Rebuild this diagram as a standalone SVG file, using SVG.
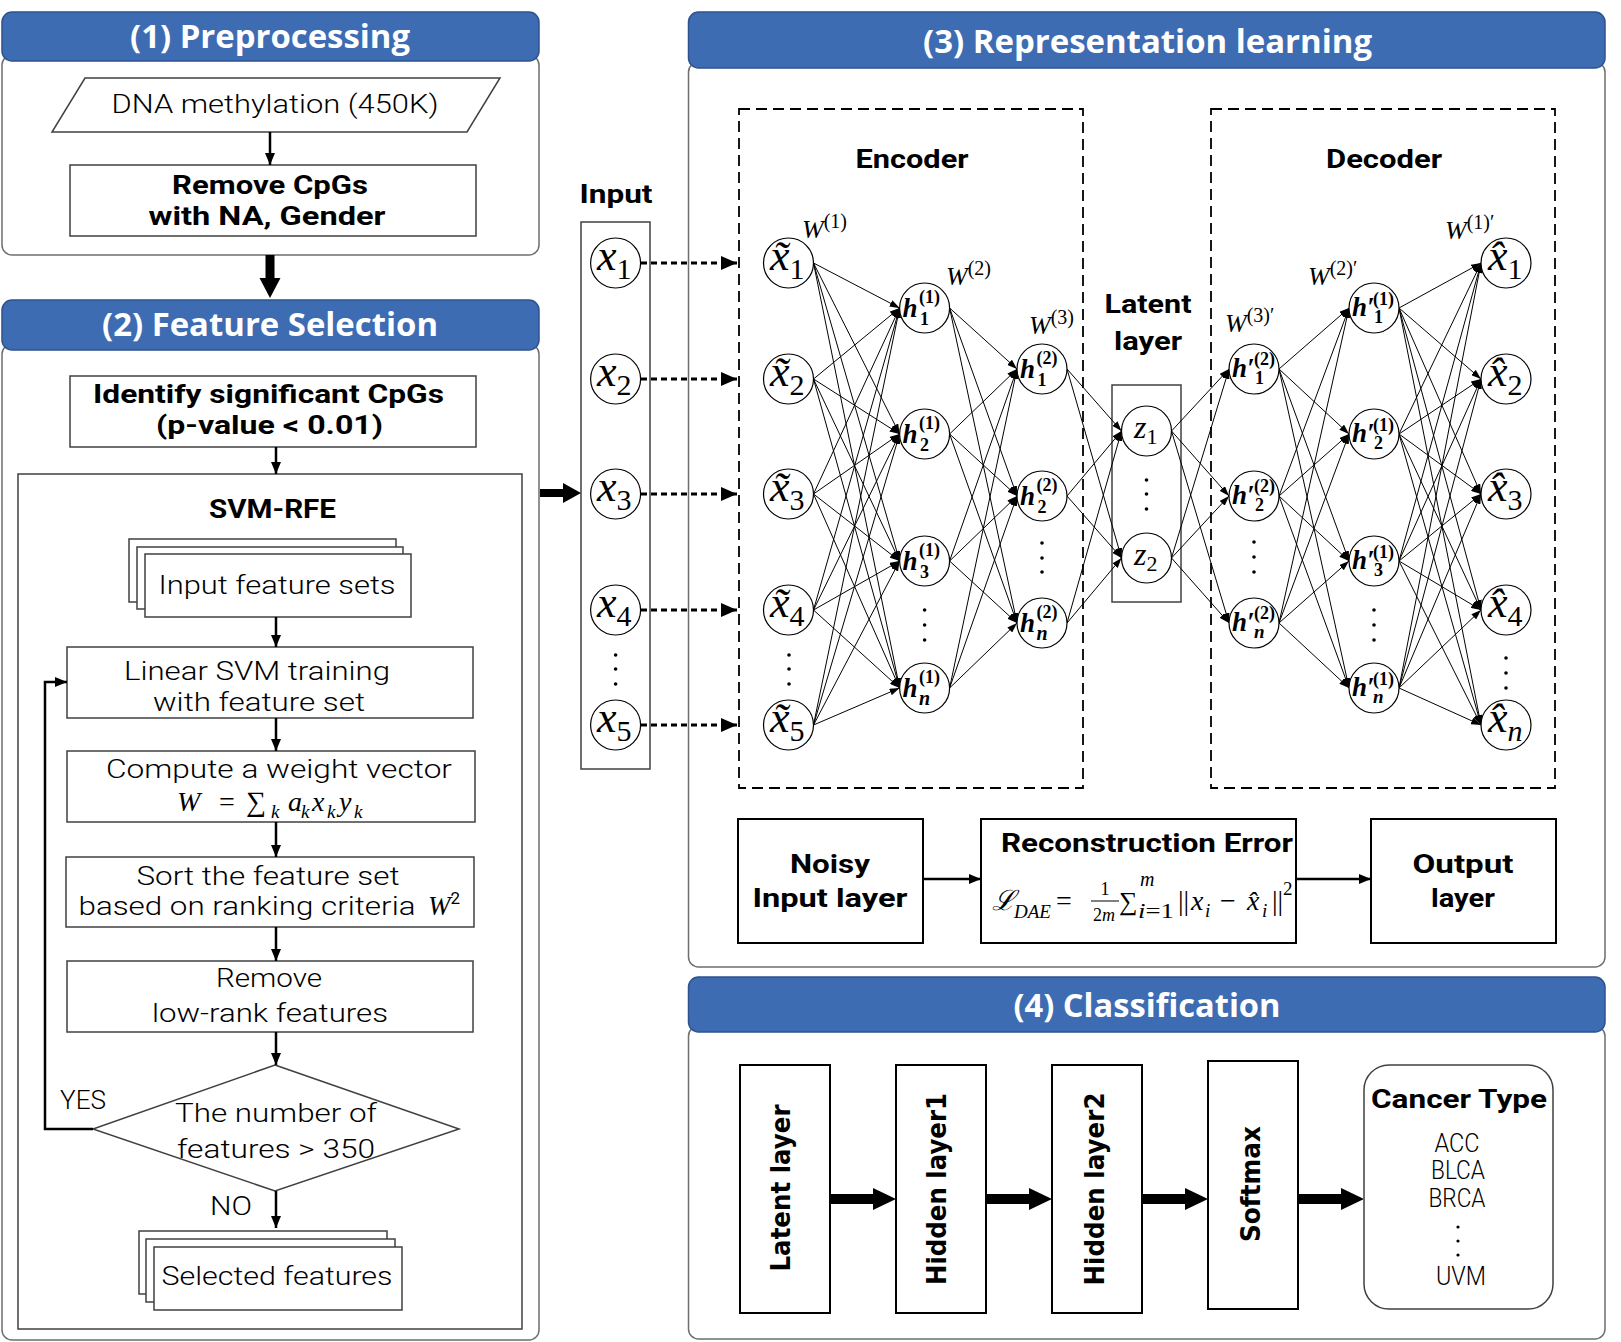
<svg xmlns="http://www.w3.org/2000/svg" width="1621" height="1342" viewBox="0 0 1621 1342">
<defs>
<style>
.hdr{fill:#3d6cb3;stroke:#2e5290;stroke-width:1.5}
.ht{font-family:"Open Sans","Noto Sans",sans-serif;font-weight:700;font-size:32px;fill:#fff;text-anchor:middle}
.pn{fill:#fff;stroke:#6e6e6e;stroke-width:1.5}
.bx{fill:#fff;stroke:#404040;stroke-width:1.5}
.bk{fill:#fff;stroke:#000;stroke-width:2}
.t{font-family:Roboto,"Liberation Sans",sans-serif;font-size:26px;font-weight:300;fill:#000;text-anchor:middle}
.b{font-weight:700}
.fl{stroke:#000;stroke-width:2.5;fill:none}
.nl{stroke:#000;stroke-width:1;fill:none}
.nd{fill:#fff;stroke:#000;stroke-width:1.2}
.mi{font-family:"Liberation Serif","DejaVu Serif",serif;font-style:italic;fill:#000}
.up{font-style:normal}
.hb{font-weight:700}
.dt{fill:#000}
.dash{stroke:#000;stroke-width:1.8;fill:none;stroke-dasharray:11 6}
.da{stroke:#000;stroke-width:3;fill:none;stroke-dasharray:6 4}
.rt{font-family:"DejaVu Sans",sans-serif;font-weight:700;font-size:26px;text-anchor:middle}
</style>
<marker id="a" markerUnits="userSpaceOnUse" markerWidth="12" markerHeight="10" refX="12" refY="5" orient="auto"><path d="M0,0L12,5L0,10z" fill="#000"/></marker>
<marker id="n" markerUnits="userSpaceOnUse" markerWidth="10" markerHeight="7" refX="10" refY="3.5" orient="auto"><path d="M0,0L10,3.5L0,7z" fill="#000"/></marker>
<marker id="d" markerUnits="userSpaceOnUse" markerWidth="16" markerHeight="14" refX="16" refY="7" orient="auto"><path d="M0,0L16,7L0,14z" fill="#000"/></marker>
</defs>
<rect width="1621" height="1342" fill="#fff"/>

<!-- panels -->
<g id="panel1">
<rect class="pn" x="2" y="55" width="537" height="200" rx="10"/>
<rect class="hdr" x="2" y="12" width="537" height="49" rx="10"/>
<text class="ht" x="270" y="48" textLength="280" lengthAdjust="spacingAndGlyphs">(1) Preprocessing</text>
</g>
<g id="panel2">
<rect class="pn" x="2" y="344" width="537" height="996" rx="10"/>
<rect class="hdr" x="2" y="300" width="537" height="50" rx="10"/>
<text class="ht" x="270" y="336" textLength="336" lengthAdjust="spacingAndGlyphs">(2) Feature Selection</text>
</g>
<g id="panel3">
<rect class="pn" x="688.5" y="62" width="916.5" height="905" rx="10"/>
<rect class="hdr" x="688.5" y="12" width="916.5" height="56" rx="10"/>
<text class="ht" x="1147.5" y="53" textLength="449" lengthAdjust="spacingAndGlyphs">(3) Representation learning</text>
</g>
<g id="panel4">
<rect class="pn" x="688.5" y="1026" width="916.5" height="313" rx="10"/>
<rect class="hdr" x="688.5" y="977" width="916.5" height="55" rx="10"/>
<text class="ht" x="1147" y="1017" textLength="267" lengthAdjust="spacingAndGlyphs">(4) Classification</text>
</g>

<!-- preprocessing nodes -->
<g id="dna">
<polygon class="bx" points="85,78 500,78 467,132 52,132"/>
<text class="t" x="275" y="113" font-size="28" textLength="327" lengthAdjust="spacingAndGlyphs">DNA methylation (450K)</text>
</g>
<g id="remove-cpg">
<rect class="bx" x="70" y="165" width="406" height="71"/>
<text class="t b"><tspan x="270" y="194" textLength="196" lengthAdjust="spacingAndGlyphs">Remove CpGs</tspan><tspan x="267" y="225" textLength="237" lengthAdjust="spacingAndGlyphs">with NA, Gender</tspan></text>
</g>

<!-- feature selection nodes -->
<g id="identify">
<rect class="bx" x="70" y="376" width="406" height="71"/>
<text class="t b"><tspan x="268.5" y="403" textLength="351" lengthAdjust="spacingAndGlyphs">Identify significant CpGs</tspan><tspan x="269.5" y="434" textLength="227" lengthAdjust="spacingAndGlyphs">(p-value &lt; 0.01)</tspan></text>
</g>
<g id="svm-rfe">
<rect class="bx" x="18" y="474" width="504" height="855" stroke="#666"/>
<text class="t b" x="272.5" y="518" textLength="127" lengthAdjust="spacingAndGlyphs">SVM-RFE</text>
</g>
<g id="input-sets">
<rect class="bx" x="129" y="539" width="267" height="63" stroke="#666"/>
<rect class="bx" x="137" y="547" width="266" height="62" stroke="#666"/>
<rect class="bx" x="145" y="554" width="266" height="63" stroke="#666"/>
<text class="t" x="277" y="594" font-size="27" textLength="237" lengthAdjust="spacingAndGlyphs">Input feature sets</text>
</g>
<g id="linear-svm">
<rect class="bx" x="67" y="647" width="406" height="71" stroke="#666"/>
<text class="t"><tspan x="257" y="680" textLength="266" lengthAdjust="spacingAndGlyphs">Linear SVM training</tspan><tspan x="259" y="711" textLength="212" lengthAdjust="spacingAndGlyphs">with feature set</tspan></text>
</g>
<g id="compute">
<rect class="bx" x="67" y="751" width="408" height="71" stroke="#666"/>
<text class="t" x="279" y="778" textLength="346" lengthAdjust="spacingAndGlyphs">Compute a weight vector</text>
<text class="mi" y="811" font-size="28"><tspan x="177">W</tspan><tspan class="up" x="219">=</tspan><tspan class="up" x="246">∑</tspan><tspan x="271" dy="7" font-size="19">k</tspan><tspan x="288" dy="-7">a</tspan><tspan x="301" dy="7" font-size="19">k</tspan><tspan x="312" dy="-7">x</tspan><tspan x="327" dy="7" font-size="19">k</tspan><tspan x="339" dy="-7">y</tspan><tspan x="354" dy="7" font-size="19">k</tspan></text>
</g>
<g id="sort">
<rect class="bx" x="66" y="857" width="408" height="70" stroke="#666"/>
<text class="t" font-size="25.5"><tspan x="268" y="885" textLength="263" lengthAdjust="spacingAndGlyphs">Sort the feature set</tspan><tspan x="247" y="915" textLength="337" lengthAdjust="spacingAndGlyphs">based on ranking criteria</tspan></text>
<text class="mi" x="428" y="915" font-size="27">W<tspan class="up" font-family="Roboto,sans-serif" font-size="17" dy="-11">2</tspan></text>
</g>
<g id="remove-low">
<rect class="bx" x="67" y="961" width="406" height="71" stroke="#666"/>
<text class="t"><tspan x="269" y="987" textLength="106" lengthAdjust="spacingAndGlyphs">Remove</tspan><tspan x="270" y="1022" textLength="236" lengthAdjust="spacingAndGlyphs">low-rank features</tspan></text>
</g>
<g id="decision">
<polygon class="bx" points="275,1065 459,1129 275,1191 93,1129" stroke="#333"/>
<text class="t"><tspan x="276" y="1122" textLength="202" lengthAdjust="spacingAndGlyphs">The number of</tspan><tspan x="276" y="1158" textLength="198" lengthAdjust="spacingAndGlyphs">features &gt; 350</tspan></text>
</g>
<g id="selected">
<rect class="bx" x="139" y="1231" width="248" height="63" stroke="#666"/>
<rect class="bx" x="146" y="1239" width="249" height="63" stroke="#666"/>
<rect class="bx" x="154" y="1247" width="248" height="63" stroke="#666"/>
<text class="t" x="277" y="1285" font-size="27" textLength="231" lengthAdjust="spacingAndGlyphs">Selected features</text>
</g>
<text class="t" x="83" y="1109" textLength="46" lengthAdjust="spacingAndGlyphs">YES</text>
<text class="t" x="231" y="1215" textLength="42" lengthAdjust="spacingAndGlyphs">NO</text>

<!-- representation learning frames -->
<g id="input-col">
<text class="t b" x="616" y="203" font-size="27" textLength="73" lengthAdjust="spacingAndGlyphs">Input</text>
<rect class="bx" x="581" y="222" width="69" height="547" stroke="#666"/>
</g>
<g id="encoder">
<rect class="dash" x="739" y="109" width="344" height="679"/>
<text class="t b" x="912" y="168" font-size="27" textLength="113" lengthAdjust="spacingAndGlyphs">Encoder</text>
</g>
<g id="decoder">
<rect class="dash" x="1211" y="109" width="344" height="679"/>
<text class="t b" x="1384" y="168" font-size="27" textLength="116" lengthAdjust="spacingAndGlyphs">Decoder</text>
</g>
<g id="latent">
<text class="t b" font-size="27"><tspan x="1148" y="313" textLength="87" lengthAdjust="spacingAndGlyphs">Latent</tspan><tspan x="1148" y="350" textLength="68" lengthAdjust="spacingAndGlyphs">layer</tspan></text>
<rect class="bx" x="1112" y="385" width="69" height="217" stroke="#333"/>
</g>

<!-- connectors -->
<g id="connectors">
<line class="fl" x1="270" y1="132" x2="270" y2="165" marker-end="url(#a)"/>
<polygon points="265.5,255 274.5,255 274.5,278 280.5,278 270,298 259.5,278 265.5,278" fill="#000"/>
<line class="fl" x1="276" y1="447" x2="276" y2="474" marker-end="url(#a)"/>
<line class="fl" x1="276" y1="617" x2="276" y2="647" marker-end="url(#a)"/>
<line class="fl" x1="276" y1="718" x2="276" y2="751" marker-end="url(#a)"/>
<line class="fl" x1="276" y1="822" x2="276" y2="857" marker-end="url(#a)"/>
<line class="fl" x1="276" y1="927" x2="276" y2="961" marker-end="url(#a)"/>
<line class="fl" x1="276" y1="1032" x2="276" y2="1065" marker-end="url(#a)"/>
<line class="fl" x1="276" y1="1191" x2="276" y2="1228" marker-end="url(#a)"/>
<path class="fl" d="M93,1129H45V682H67" marker-end="url(#a)"/>
<polygon points="540,489 563,489 563,483 581,493 563,503 563,497 540,497" fill="#000"/>
<line class="da" x1="641" y1="263" x2="737" y2="263" marker-end="url(#d)"/>
<line class="da" x1="641" y1="379" x2="737" y2="379" marker-end="url(#d)"/>
<line class="da" x1="641" y1="494" x2="737" y2="494" marker-end="url(#d)"/>
<line class="da" x1="641" y1="610" x2="737" y2="610" marker-end="url(#d)"/>
<line class="da" x1="641" y1="725" x2="737" y2="725" marker-end="url(#d)"/>
<g marker-end="url(#n)" class="nl">
<line x1="813.5" y1="263" x2="899.6" y2="308"/><line x1="813.5" y1="263" x2="899.6" y2="434"/><line x1="813.5" y1="263" x2="899.6" y2="561"/><line x1="813.5" y1="263" x2="899.6" y2="688"/>
<line x1="813.5" y1="379" x2="899.6" y2="308"/><line x1="813.5" y1="379" x2="899.6" y2="434"/><line x1="813.5" y1="379" x2="899.6" y2="561"/><line x1="813.5" y1="379" x2="899.6" y2="688"/>
<line x1="813.5" y1="494" x2="899.6" y2="308"/><line x1="813.5" y1="494" x2="899.6" y2="434"/><line x1="813.5" y1="494" x2="899.6" y2="561"/><line x1="813.5" y1="494" x2="899.6" y2="688"/>
<line x1="813.5" y1="610" x2="899.6" y2="308"/><line x1="813.5" y1="610" x2="899.6" y2="434"/><line x1="813.5" y1="610" x2="899.6" y2="561"/><line x1="813.5" y1="610" x2="899.6" y2="688"/>
<line x1="813.5" y1="725" x2="899.6" y2="308"/><line x1="813.5" y1="725" x2="899.6" y2="434"/><line x1="813.5" y1="725" x2="899.6" y2="561"/><line x1="813.5" y1="725" x2="899.6" y2="688"/>
<line x1="949.6" y1="308" x2="1017" y2="369"/><line x1="949.6" y1="308" x2="1017" y2="496"/><line x1="949.6" y1="308" x2="1017" y2="623"/>
<line x1="949.6" y1="434" x2="1017" y2="369"/><line x1="949.6" y1="434" x2="1017" y2="496"/><line x1="949.6" y1="434" x2="1017" y2="623"/>
<line x1="949.6" y1="561" x2="1017" y2="369"/><line x1="949.6" y1="561" x2="1017" y2="496"/><line x1="949.6" y1="561" x2="1017" y2="623"/>
<line x1="949.6" y1="688" x2="1017" y2="369"/><line x1="949.6" y1="688" x2="1017" y2="496"/><line x1="949.6" y1="688" x2="1017" y2="623"/>
<line x1="1067" y1="369" x2="1121.5" y2="431"/><line x1="1067" y1="369" x2="1121.5" y2="558"/>
<line x1="1067" y1="496" x2="1121.5" y2="431"/><line x1="1067" y1="496" x2="1121.5" y2="558"/>
<line x1="1067" y1="623" x2="1121.5" y2="431"/><line x1="1067" y1="623" x2="1121.5" y2="558"/>
<line x1="1171.5" y1="431" x2="1229" y2="369"/><line x1="1171.5" y1="431" x2="1229" y2="496"/><line x1="1171.5" y1="431" x2="1229" y2="623"/>
<line x1="1171.5" y1="558" x2="1229" y2="369"/><line x1="1171.5" y1="558" x2="1229" y2="496"/><line x1="1171.5" y1="558" x2="1229" y2="623"/>
<line x1="1279" y1="369" x2="1349" y2="308"/><line x1="1279" y1="369" x2="1349" y2="434"/><line x1="1279" y1="369" x2="1349" y2="561"/><line x1="1279" y1="369" x2="1349" y2="688"/>
<line x1="1279" y1="496" x2="1349" y2="308"/><line x1="1279" y1="496" x2="1349" y2="434"/><line x1="1279" y1="496" x2="1349" y2="561"/><line x1="1279" y1="496" x2="1349" y2="688"/>
<line x1="1279" y1="623" x2="1349" y2="308"/><line x1="1279" y1="623" x2="1349" y2="434"/><line x1="1279" y1="623" x2="1349" y2="561"/><line x1="1279" y1="623" x2="1349" y2="688"/>
<line x1="1399" y1="308" x2="1481" y2="263"/><line x1="1399" y1="308" x2="1481" y2="379"/><line x1="1399" y1="308" x2="1481" y2="494"/><line x1="1399" y1="308" x2="1481" y2="610"/><line x1="1399" y1="308" x2="1481" y2="725"/>
<line x1="1399" y1="434" x2="1481" y2="263"/><line x1="1399" y1="434" x2="1481" y2="379"/><line x1="1399" y1="434" x2="1481" y2="494"/><line x1="1399" y1="434" x2="1481" y2="610"/><line x1="1399" y1="434" x2="1481" y2="725"/>
<line x1="1399" y1="561" x2="1481" y2="263"/><line x1="1399" y1="561" x2="1481" y2="379"/><line x1="1399" y1="561" x2="1481" y2="494"/><line x1="1399" y1="561" x2="1481" y2="610"/><line x1="1399" y1="561" x2="1481" y2="725"/>
<line x1="1399" y1="688" x2="1481" y2="263"/><line x1="1399" y1="688" x2="1481" y2="379"/><line x1="1399" y1="688" x2="1481" y2="494"/><line x1="1399" y1="688" x2="1481" y2="610"/><line x1="1399" y1="688" x2="1481" y2="725"/>
</g>
<line class="fl" x1="923" y1="879" x2="981" y2="879" marker-end="url(#a)"/>
<line class="fl" x1="1296" y1="879" x2="1371" y2="879" marker-end="url(#a)"/>
<polygon points="830,1194 873,1194 873,1188 896,1199 873,1210 873,1204 830,1204" fill="#000"/>
<polygon points="986,1194 1029,1194 1029,1188 1052,1199 1029,1210 1029,1204 986,1204" fill="#000"/>
<polygon points="1142,1194 1185,1194 1185,1188 1208,1199 1185,1210 1185,1204 1142,1204" fill="#000"/>
<polygon points="1298,1194 1341,1194 1341,1188 1364,1199 1341,1210 1341,1204 1298,1204" fill="#000"/>
</g>

<!-- input nodes -->
<g id="x1"><circle class="nd" cx="615.6" cy="263" r="25"/><text class="mi" x="597" y="270" font-size="44">x<tspan class="up" font-size="30" dy="9">1</tspan></text></g>
<g id="x2"><circle class="nd" cx="615.6" cy="379" r="25"/><text class="mi" x="597" y="386" font-size="44">x<tspan class="up" font-size="30" dy="9">2</tspan></text></g>
<g id="x3"><circle class="nd" cx="615.6" cy="494" r="25"/><text class="mi" x="597" y="501" font-size="44">x<tspan class="up" font-size="30" dy="9">3</tspan></text></g>
<g id="x4"><circle class="nd" cx="615.6" cy="610" r="25"/><text class="mi" x="597" y="617" font-size="44">x<tspan class="up" font-size="30" dy="9">4</tspan></text></g>
<g id="x5"><circle class="nd" cx="615.6" cy="725" r="25"/><text class="mi" x="597" y="732" font-size="44">x<tspan class="up" font-size="30" dy="9">5</tspan></text></g>
<g id="x-dots"><circle class="dt" cx="615.6" cy="655" r="1.8"/><circle class="dt" cx="615.6" cy="669" r="1.8"/><circle class="dt" cx="615.6" cy="684" r="1.8"/></g>

<!-- noisy input nodes -->
<g id="xt1"><circle class="nd" cx="788.5" cy="263" r="25"/><text class="mi" x="770" y="270" font-size="44">x&#x303;<tspan class="up" font-size="30" dy="9">1</tspan></text></g>
<g id="xt2"><circle class="nd" cx="788.5" cy="379" r="25"/><text class="mi" x="770" y="386" font-size="44">x&#x303;<tspan class="up" font-size="30" dy="9">2</tspan></text></g>
<g id="xt3"><circle class="nd" cx="788.5" cy="494" r="25"/><text class="mi" x="770" y="501" font-size="44">x&#x303;<tspan class="up" font-size="30" dy="9">3</tspan></text></g>
<g id="xt4"><circle class="nd" cx="788.5" cy="610" r="25"/><text class="mi" x="770" y="617" font-size="44">x&#x303;<tspan class="up" font-size="30" dy="9">4</tspan></text></g>
<g id="xt5"><circle class="nd" cx="788.5" cy="725" r="25"/><text class="mi" x="770" y="732" font-size="44">x&#x303;<tspan class="up" font-size="30" dy="9">5</tspan></text></g>
<g id="xt-dots"><circle class="dt" cx="789" cy="655" r="1.8"/><circle class="dt" cx="789" cy="669" r="1.8"/><circle class="dt" cx="789" cy="684" r="1.8"/></g>

<!-- hidden 1 -->
<g id="h1-1"><circle class="nd" cx="924.6" cy="308" r="25"/><text class="mi hb" x="902.6" y="317" font-size="27">h</text><text class="mi up hb" x="919" y="303" font-size="18">(1)</text><text class="mi up hb" x="920" y="325" font-size="18">1</text></g>
<g id="h1-2"><circle class="nd" cx="924.6" cy="434" r="25"/><text class="mi hb" x="902.6" y="443" font-size="27">h</text><text class="mi up hb" x="919" y="429" font-size="18">(1)</text><text class="mi up hb" x="920" y="451" font-size="18">2</text></g>
<g id="h1-3"><circle class="nd" cx="924.6" cy="561" r="25"/><text class="mi hb" x="902.6" y="570" font-size="27">h</text><text class="mi up hb" x="919" y="556" font-size="18">(1)</text><text class="mi up hb" x="920" y="578" font-size="18">3</text></g>
<g id="h1-n"><circle class="nd" cx="924.6" cy="688" r="25"/><text class="mi hb" x="902.6" y="697" font-size="27">h</text><text class="mi up hb" x="919" y="683" font-size="18">(1)</text><text class="mi hb" x="919" y="705" font-size="20">n</text></g>
<g id="h1-dots"><circle class="dt" cx="924.6" cy="610" r="1.8"/><circle class="dt" cx="924.6" cy="625" r="1.8"/><circle class="dt" cx="924.6" cy="640" r="1.8"/></g>

<!-- hidden 2 -->
<g id="h2-1"><circle class="nd" cx="1042" cy="369" r="25"/><text class="mi hb" x="1020" y="378" font-size="27">h</text><text class="mi up hb" x="1036.4" y="364" font-size="18">(2)</text><text class="mi up hb" x="1037.4" y="386" font-size="18">1</text></g>
<g id="h2-2"><circle class="nd" cx="1042" cy="496" r="25"/><text class="mi hb" x="1020" y="505" font-size="27">h</text><text class="mi up hb" x="1036.4" y="491" font-size="18">(2)</text><text class="mi up hb" x="1037.4" y="513" font-size="18">2</text></g>
<g id="h2-n"><circle class="nd" cx="1042" cy="623" r="25"/><text class="mi hb" x="1020" y="632" font-size="27">h</text><text class="mi up hb" x="1036.4" y="618" font-size="18">(2)</text><text class="mi hb" x="1036.4" y="640" font-size="20">n</text></g>
<g id="h2-dots"><circle class="dt" cx="1042" cy="543" r="1.8"/><circle class="dt" cx="1042" cy="558" r="1.8"/><circle class="dt" cx="1042" cy="572" r="1.8"/></g>

<!-- latent -->
<g id="z1"><circle class="nd" cx="1146.5" cy="431" r="25"/><text class="mi" x="1134" y="438" font-size="32">z<tspan class="up" font-size="22" dy="6">1</tspan></text></g>
<g id="z2"><circle class="nd" cx="1146.5" cy="558" r="25"/><text class="mi" x="1134" y="565" font-size="32">z<tspan class="up" font-size="22" dy="6">2</tspan></text></g>
<g id="z-dots"><circle class="dt" cx="1146.5" cy="480" r="1.8"/><circle class="dt" cx="1146.5" cy="494" r="1.8"/><circle class="dt" cx="1146.5" cy="509" r="1.8"/></g>

<!-- decoder hidden 2' -->
<g id="hp2-1"><circle class="nd" cx="1254" cy="369" r="25"/><text class="mi hb" x="1232" y="377" font-size="27">h′</text><text class="mi up hb" x="1254" y="365" font-size="18">(2)</text><text class="mi up hb" x="1255" y="384" font-size="18">1</text></g>
<g id="hp2-2"><circle class="nd" cx="1254" cy="496" r="25"/><text class="mi hb" x="1232" y="504" font-size="27">h′</text><text class="mi up hb" x="1254" y="492" font-size="18">(2)</text><text class="mi up hb" x="1255" y="511" font-size="18">2</text></g>
<g id="hp2-n"><circle class="nd" cx="1254" cy="623" r="25"/><text class="mi hb" x="1232" y="631" font-size="27">h′</text><text class="mi up hb" x="1254" y="619" font-size="18">(2)</text><text class="mi hb" x="1254" y="638" font-size="19">n</text></g>
<g id="hp2-dots"><circle class="dt" cx="1254" cy="542" r="1.8"/><circle class="dt" cx="1254" cy="557" r="1.8"/><circle class="dt" cx="1254" cy="572" r="1.8"/></g>

<!-- decoder hidden 1' -->
<g id="hp1-1"><circle class="nd" cx="1374" cy="308" r="25"/><text class="mi hb" x="1352" y="316" font-size="27">h′</text><text class="mi up hb" x="1373" y="305" font-size="18">(1)</text><text class="mi up hb" x="1374" y="323" font-size="18">1</text></g>
<g id="hp1-2"><circle class="nd" cx="1374" cy="434" r="25"/><text class="mi hb" x="1352" y="442" font-size="27">h′</text><text class="mi up hb" x="1373" y="431" font-size="18">(1)</text><text class="mi up hb" x="1374" y="449" font-size="18">2</text></g>
<g id="hp1-3"><circle class="nd" cx="1374" cy="561" r="25"/><text class="mi hb" x="1352" y="569" font-size="27">h′</text><text class="mi up hb" x="1373" y="558" font-size="18">(1)</text><text class="mi up hb" x="1374" y="576" font-size="18">3</text></g>
<g id="hp1-n"><circle class="nd" cx="1374" cy="688" r="25"/><text class="mi hb" x="1352" y="696" font-size="27">h′</text><text class="mi up hb" x="1373" y="685" font-size="18">(1)</text><text class="mi hb" x="1373" y="703" font-size="19">n</text></g>
<g id="hp1-dots"><circle class="dt" cx="1374" cy="610" r="1.8"/><circle class="dt" cx="1374" cy="625" r="1.8"/><circle class="dt" cx="1374" cy="640" r="1.8"/></g>

<!-- outputs -->
<g id="xh1"><circle class="nd" cx="1506" cy="263" r="25"/><text class="mi" x="1488" y="270" font-size="44">x&#x302;<tspan class="up" font-size="30" dy="9">1</tspan></text></g>
<g id="xh2"><circle class="nd" cx="1506" cy="379" r="25"/><text class="mi" x="1488" y="386" font-size="44">x&#x302;<tspan class="up" font-size="30" dy="9">2</tspan></text></g>
<g id="xh3"><circle class="nd" cx="1506" cy="494" r="25"/><text class="mi" x="1488" y="501" font-size="44">x&#x302;<tspan class="up" font-size="30" dy="9">3</tspan></text></g>
<g id="xh4"><circle class="nd" cx="1506" cy="610" r="25"/><text class="mi" x="1488" y="617" font-size="44">x&#x302;<tspan class="up" font-size="30" dy="9">4</tspan></text></g>
<g id="xhn"><circle class="nd" cx="1506" cy="725" r="25"/><text class="mi" x="1488" y="732" font-size="44">x&#x302;<tspan font-size="30" dy="9">n</tspan></text></g>
<g id="xh-dots"><circle class="dt" cx="1506" cy="658" r="1.8"/><circle class="dt" cx="1506" cy="673" r="1.8"/><circle class="dt" cx="1506" cy="688" r="1.8"/></g>

<!-- weight labels -->
<g id="weights">
<text class="mi" x="802" y="238" font-size="26">W<tspan class="up" font-size="20" dy="-10">(1)</tspan></text>
<text class="mi" x="946" y="285" font-size="26">W<tspan class="up" font-size="20" dy="-10">(2)</tspan></text>
<text class="mi" x="1029" y="334" font-size="26">W<tspan class="up" font-size="20" dy="-10">(3)</tspan></text>
<text class="mi" x="1225" y="332" font-size="26">W<tspan class="up" font-size="20" dy="-10">(3)′</tspan></text>
<text class="mi" x="1308" y="285" font-size="26">W<tspan class="up" font-size="20" dy="-10">(2)′</tspan></text>
<text class="mi" x="1445" y="239" font-size="26">W<tspan class="up" font-size="20" dy="-10">(1)′</tspan></text>
</g>

<!-- loss row -->
<g id="noisy">
<rect class="bk" x="738" y="819" width="185" height="124" stroke="#333" stroke-width="1.5"/>
<text class="t b" font-size="27"><tspan x="830" y="873" textLength="80" lengthAdjust="spacingAndGlyphs">Noisy</tspan><tspan x="830" y="907" textLength="155" lengthAdjust="spacingAndGlyphs">Input layer</tspan></text>
</g>
<g id="recon">
<rect class="bk" x="981" y="819" width="315" height="124" stroke="#333" stroke-width="1.5"/>
<text class="t b" x="1147" y="852" font-size="27" textLength="292" lengthAdjust="spacingAndGlyphs">Reconstruction Error</text>
<text class="mi" y="910" font-size="28"><tspan x="992">ℒ</tspan><tspan x="1014" dy="8" font-size="19">DAE</tspan><tspan class="up" x="1056" dy="-8">=</tspan></text>
<text class="mi up" x="1105" y="895" font-size="18" text-anchor="middle">1</text>
<line x1="1091" y1="901" x2="1119" y2="901" stroke="#000" stroke-width="1"/>
<text class="mi" x="1104" y="921" font-size="18" text-anchor="middle"><tspan class="up">2</tspan>m</text>
<text class="mi up" x="1119" y="910" font-size="26">∑</text>
<text class="mi" x="1140" y="886" font-size="20">m</text>
<text class="mi" x="1138" y="918" font-size="20" textLength="36" lengthAdjust="spacingAndGlyphs">i<tspan class="up">=1</tspan></text>
<text class="mi" y="910" font-size="28"><tspan class="up" x="1178">||</tspan><tspan x="1191">x</tspan><tspan x="1205" dy="7" font-size="19">i</tspan><tspan class="up" x="1220" dy="-7">−</tspan><tspan x="1247">x&#x302;</tspan><tspan x="1262" dy="7" font-size="19">i</tspan><tspan class="up" x="1272" dy="-7">||</tspan><tspan class="up" x="1283" dy="-15" font-size="19">2</tspan></text>
</g>
<g id="output">
<rect class="bk" x="1371" y="819" width="185" height="124" stroke="#333" stroke-width="1.5"/>
<text class="t b" font-size="27"><tspan x="1463" y="873" textLength="101" lengthAdjust="spacingAndGlyphs">Output</tspan><tspan x="1463" y="907" textLength="64" lengthAdjust="spacingAndGlyphs">layer</tspan></text>
</g>

<!-- classification -->
<g id="c-latent"><rect class="bk" x="740" y="1065" width="90" height="248"/><text class="rt" transform="translate(790,1188) rotate(-90)" textLength="167" lengthAdjust="spacingAndGlyphs">Latent layer</text></g>
<g id="c-hidden1"><rect class="bk" x="896" y="1065" width="90" height="248"/><text class="rt" transform="translate(946,1189) rotate(-90)" textLength="192" lengthAdjust="spacingAndGlyphs">Hidden layer1</text></g>
<g id="c-hidden2"><rect class="bk" x="1052" y="1065" width="90" height="248"/><text class="rt" transform="translate(1104,1189) rotate(-90)" textLength="193" lengthAdjust="spacingAndGlyphs">Hidden layer2</text></g>
<g id="c-softmax"><rect class="bk" x="1208" y="1061" width="90" height="248"/><text class="rt" transform="translate(1260,1184) rotate(-90)" textLength="116" lengthAdjust="spacingAndGlyphs">Softmax</text></g>
<g id="c-cancer">
<rect class="bx" x="1364" y="1065" width="189" height="244" rx="25" stroke="#333"/>
<text class="t b" x="1459" y="1108" font-size="27" textLength="176" lengthAdjust="spacingAndGlyphs">Cancer Type</text>
<text class="t" font-size="22"><tspan x="1457" y="1152" textLength="45" lengthAdjust="spacingAndGlyphs">ACC</tspan><tspan x="1458" y="1179" textLength="54" lengthAdjust="spacingAndGlyphs">BLCA</tspan><tspan x="1457" y="1207" textLength="57" lengthAdjust="spacingAndGlyphs">BRCA</tspan><tspan x="1461" y="1285" textLength="50" lengthAdjust="spacingAndGlyphs">UVM</tspan></text>
<circle class="dt" cx="1458" cy="1227" r="1.6"/><circle class="dt" cx="1458" cy="1241" r="1.6"/><circle class="dt" cx="1458" cy="1255" r="1.6"/>
</g>
</svg>
